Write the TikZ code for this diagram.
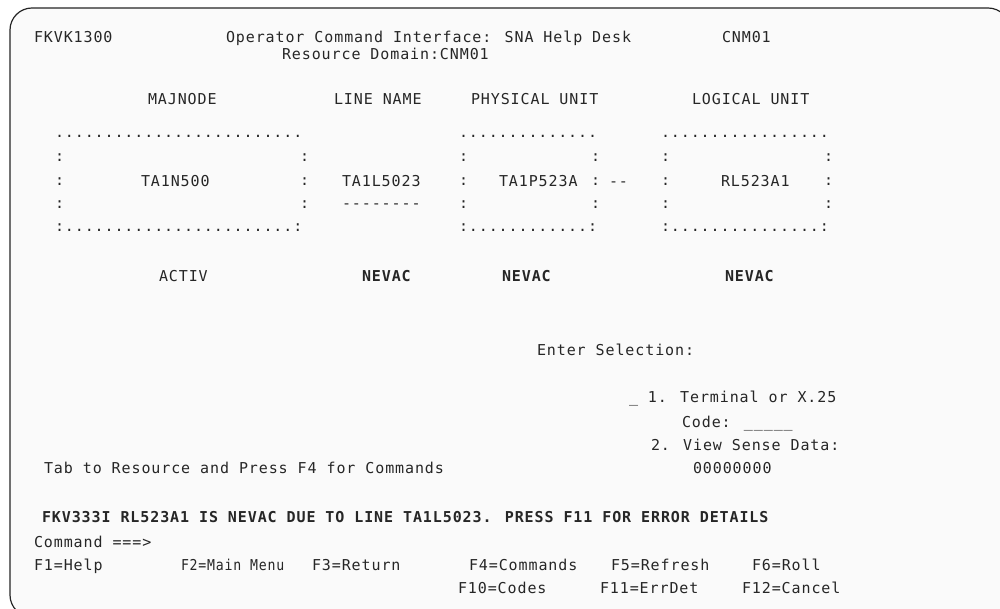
\documentclass[tikz,border=0pt]{standalone}
\usepackage{fontspec}
\newfontfamily\scr{DejaVu Sans Mono}[LetterSpace=6.0]
\definecolor{ink}{HTML}{262626}
\tikzset{
  t/.style={anchor=base west, inner sep=0pt, outer sep=0pt, text=ink, font=\scr\fontsize{15}{15}\selectfont},
  tb/.style={t, font=\scr\bfseries\fontsize{15}{15}\selectfont},
  frame/.style={line width=1.2pt, draw=ink, fill=black!2, rounded corners=22pt}
}
\begin{document}
\begin{tikzpicture}[x=1pt,y=-1pt]
\useasboundingbox (0,0) rectangle (1000,609);
\fill[white] (0,0) rectangle (1000,609);
\clip (0,0) rectangle (1000,609);
\draw[frame] (10,8) rectangle (1010,617);

% header
\node[t] (id) at (34,43) {FKVK1300};
\node[t] (title) at (226,43) {Operator Command Interface: SNA Help Desk};
\node[t] (dom) at (722,43) {CNM01};
\node[t] (rdom) at (282,60) {Resource Domain:CNM01};

% column headings
\node[t] (h1) at (148,105) {MAJNODE};
\node[t] (h2) at (334,105) {LINE NAME};
\node[t] (h3) at (471,105) {PHYSICAL UNIT};
\node[t] (h4) at (692,105) {LOGICAL UNIT};

% box 1 (MAJNODE)
\node[t] (b1t) at (55,138) {.........................};
\node[t] (b1l1) at (55,162) {:};
\node[t] (b1r1) at (300,162) {:};
\node[t] (b1l2) at (55,186) {:};
\node[t] (b1r2) at (300,186) {:};
\node[t] (b1l3) at (55,209) {:};
\node[t] (b1r3) at (300,209) {:};
\node[t] (b1b) at (55,232) {:.......................:};
\node[t] (maj) at (141,187) {TA1N500};

% line
\node[t] (line) at (342,187) {TA1L5023};
\node[t] (lined) at (342,209) {--------};

% box 2 (PU)
\node[t] (b2t) at (459,138) {..............};
\node[t] (b2l1) at (459,162) {:};
\node[t] (b2r1) at (591,162) {:};
\node[t] (b2l2) at (459,186) {:};
\node[t] (b2r2) at (591,186) {:};
\node[t] (b2l3) at (459,209) {:};
\node[t] (b2r3) at (591,209) {:};
\node[t] (b2b) at (459,232) {:............:};
\node[t] (pu) at (499,187) {TA1P523A};
\node[t] (link) at (609,187) {--};

% box 3 (LU)
\node[t] (b3t) at (661,138) {.................};
\node[t] (b3l1) at (661,162) {:};
\node[t] (b3r1) at (824,162) {:};
\node[t] (b3l2) at (661,186) {:};
\node[t] (b3r2) at (824,186) {:};
\node[t] (b3l3) at (661,209) {:};
\node[t] (b3r3) at (824,209) {:};
\node[t] (b3b) at (661,232) {:...............:};
\node[t] (lu) at (721,187) {RL523A1};

% statuses
\node[t] (s1) at (159,282) {ACTIV};
\node[tb] (s2) at (362,282) {NEVAC};
\node[tb] (s3) at (502,282) {NEVAC};
\node[tb] (s4) at (725,282) {NEVAC};

% selection area
\node[t] (sel) at (537,355) {Enter Selection:};
\node[t] (opt1) at (629,402) {\_ 1. Terminal or X.25};
\node[t] (code) at (682,427) {Code: \_\_\_\_\_};
\node[t] (opt2) at (651,450) {2. View Sense Data:};
\node[t] (sense) at (693,473) {00000000};
\node[t] (tab) at (44,473) {Tab to Resource and Press F4 for Commands};

% message and command line
\node[tb] (msg) at (42,522) {FKV333I RL523A1 IS NEVAC DUE TO LINE TA1L5023. PRESS F11 FOR ERROR DETAILS};
\node[t] (cmd) at (34,547) {Command ===>};

% function keys
\node[t] (f1) at (34,570) {F1=Help};
\node[t] (f2) at (181,570) {\scalebox{0.88}[1]{F2=Main Menu}};
\node[t] (f3) at (312,570) {F3=Return};
\node[t] (f4) at (469,570) {F4=Commands};
\node[t] (f5) at (611,570) {F5=Refresh};
\node[t] (f6) at (752,570) {F6=Roll};
\node[t] (f10) at (458,593) {F10=Codes};
\node[t] (f11) at (600,593) {F11=ErrDet};
\node[t] (f12) at (742,593) {F12=Cancel};
\end{tikzpicture}
\end{document}
